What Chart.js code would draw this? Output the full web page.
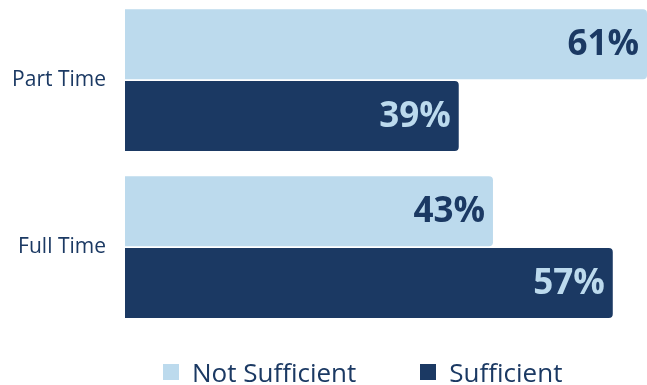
<!DOCTYPE html>
<html>
<head>
<meta charset="utf-8">
<script src="https://cdn.jsdelivr.net/npm/chart.js"></script>
<style>
  html, body { margin: 0; padding: 0; background: #fff; }
  #wrap { position: relative; width: 647px; height: 385px; overflow: hidden; }
  #chart { position: absolute; left: 0; top: -4px; }
  #legend {
    position: absolute; left: 163px; top: 359px;
    display: flex; gap: 64px; margin: 0; padding: 0; list-style: none;
    font-family: "Open Sans", sans-serif; font-size: 26px; line-height: 26px; color: #1b3963;
  }
  #legend li { display: flex; align-items: center; white-space: nowrap; }
  #legend .box { width: 16px; height: 16px; margin-right: 13px; }
</style>
</head>
<body>
<div id="wrap">
  <canvas id="chart" width="647" height="389"></canvas>
  <ul id="legend"></ul>
</div>
<script>
const categories = ['Part Time', 'Full Time'];
const seriesNames = ['Not Sufficient', 'Sufficient'];
const notSufficient = [61, 43];
const sufficient = [39, 57];

const barColors = ['#bcdaed', '#1b3963'];
const labelColors = ['#1b3963', '#bcdaed'];

// percentage printed inside the end of every bar
const barValueLabels = {
  id: 'barValueLabels',
  afterDatasetsDraw(chart) {
    const ctx = chart.ctx;
    ctx.save();
    ctx.font = 'bold 35px "Open Sans"';
    ctx.textAlign = 'right';
    ctx.textBaseline = 'middle';
    chart.data.datasets.forEach((ds, i) => {
      chart.getDatasetMeta(i).data.forEach((bar, j) => {
        ctx.fillStyle = labelColors[i];
        ctx.fillText(ds.data[j] + '%', bar.x - 8, bar.y + 1);
      });
    });
    ctx.restore();
  }
};

// legend as a list under the canvas
const htmlLegend = {
  id: 'htmlLegend',
  afterUpdate(chart) {
    const ul = document.getElementById('legend');
    ul.innerHTML = '';
    chart.options.plugins.legend.labels.generateLabels(chart).forEach(item => {
      const li = document.createElement('li');
      const box = document.createElement('span');
      box.className = 'box';
      box.style.background = item.fillStyle;
      li.appendChild(box);
      li.appendChild(document.createTextNode(item.text));
      ul.appendChild(li);
    });
  }
};

const ctx = document.getElementById('chart').getContext('2d');
new Chart(ctx, {
  type: 'bar',
  data: {
    labels: categories,
    datasets: [
      { label: seriesNames[0], data: notSufficient, backgroundColor: barColors[0] },
      { label: seriesNames[1], data: sufficient, backgroundColor: barColors[1] }
    ]
  },
  options: {
    indexAxis: 'y',
    responsive: false,
    animation: false,
    layout: { padding: { top: 0.6, bottom: 54.3, left: 0, right: 0 } },
    datasets: {
      bar: { categoryPercentage: 0.86, barPercentage: 0.975, borderRadius: 4, borderSkipped: 'start' }
    },
    scales: {
      x: { display: false, min: 0, max: 61 },
      y: {
        afterFit(scale) {
          scale.width = 125;
          // labels sit beside the bars, no extra room needed above/below
          scale.paddingTop = 0;
          scale.paddingBottom = 0;
        },
        grid: { display: false, drawTicks: false },
        border: { display: false },
        ticks: { padding: 19, color: '#1b3963', font: { family: 'Open Sans', size: 21 } }
      }
    },
    plugins: {
      legend: { display: false },
      tooltip: { enabled: false }
    }
  },
  plugins: [barValueLabels, htmlLegend]
});
</script>
</body>
</html>
